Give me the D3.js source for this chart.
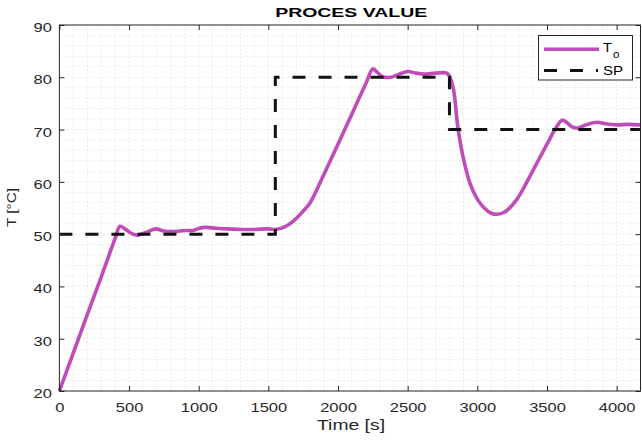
<!DOCTYPE html>
<html><head><meta charset="utf-8">
<script src="https://cdn.jsdelivr.net/npm/d3@7"></script>
<style>body{margin:0;background:#fff}svg{display:block;font-family:"Liberation Sans",Arial,sans-serif}</style>
</head><body><svg id="c" width="642" height="440"></svg>
<script>
const xTicks=[0,500,1000,1500,2000,2500,3000,3500,4000];
const yTicks=[20,30,40,50,60,70,80,90];
const spTime=[0,1550,1550,2800,2800,4175];
const spValue=[50,50,80,80,70,70];
const pvTime=[0,100,200,300,400,435,470,520,560,620,690,750,820,900,960,1000,1050,1100,1200,1300,1400,1500,1550,1600,1650,1700,1750,1800,1900,2000,2100,2200,2250,2280,2320,2380,2440,2500,2560,2620,2700,2780,2800,2830,2860,2900,2950,3000,3050,3100,3140,3200,3280,3340,3400,3460,3520,3570,3610,3640,3680,3720,3780,3860,3920,4000,4080,4175];
const pvValue=[20,27.3,34.6,41.8,49.2,51.5,51.0,50.1,49.8,50.3,51.0,50.6,50.5,50.7,50.7,51.1,51.3,51.2,51.0,50.9,50.9,51.0,50.9,51.2,51.9,53.0,54.4,56.0,61.5,67.2,73.0,78.8,81.6,81.0,80.1,80.0,80.6,81.1,80.8,80.6,80.8,80.8,80.2,77.5,70.5,64.5,59.5,56.7,55.0,54.0,53.8,54.3,56.5,59.2,62.2,65.2,68.2,70.6,71.8,71.4,70.5,70.3,70.9,71.4,71.1,70.9,71.0,70.9];

const SX=1.32;
const svg=d3.select("#c");
const L=59.4,R=641,T=25,B=391;
const x=d3.scaleLinear().domain([0,4175]).range([L,R]);
const y=d3.scaleLinear().domain([20,90]).range([B,T]);

// minor grid
const g=svg.append("g");
const xm=d3.range(0,4176,100), ym=d3.range(20,90.1,2);
g.selectAll("line.xm").data(xm).join("line").attr("x1",d=>x(d)).attr("x2",d=>x(d)).attr("y1",T).attr("y2",B)
 .attr("stroke","#cfcfcf").attr("stroke-width",0.8).attr("stroke-dasharray","1,3");
g.selectAll("line.ym").data(ym).join("line").attr("y1",d=>y(d)).attr("y2",d=>y(d)).attr("x1",L).attr("x2",R)
 .attr("stroke","#cfcfcf").attr("stroke-width",0.8).attr("stroke-dasharray","1,3");

// data
const sp=spTime.map((t,i)=>[t,spValue[i]]);
const pv=pvTime.map((t,i)=>[t,pvValue[i]]);
svg.append("path").datum(pv).attr("fill","none").attr("stroke","#bf4cb8").attr("stroke-width",3.6)
 .attr("d",d3.line().x(d=>x(d[0])).y(d=>y(d[1])).curve(d3.curveCatmullRom.alpha(0.5)));
svg.append("path").datum(sp).attr("fill","none").attr("stroke","#111").attr("stroke-width",3)
 .attr("stroke-dasharray","13,13").attr("d",d3.line().x(d=>x(d[0])).y(d=>y(d[1])));

// axes
const xa=d3.axisBottom(x).tickValues(xTicks).tickSize(-5).tickFormat(d3.format("d"));
const ya=d3.axisLeft(y).tickValues(yTicks).tickSize(-5);
const gx=svg.append("g").attr("transform",`translate(0,${B})`).call(xa);
const gy=svg.append("g").attr("transform",`translate(${L},0)`).call(ya);
const gx2=svg.append("g").attr("transform",`translate(0,${T})`).call(d3.axisTop(x).tickValues(xTicks).tickSize(-5).tickFormat(""));
const gy2=svg.append("g").attr("transform",`translate(${R-0.5},0)`).call(d3.axisRight(y).tickValues(yTicks).tickSize(-5).tickFormat(""));
[gx,gy,gx2,gy2].forEach(a=>{a.select(".domain").remove();a.selectAll(".tick line").attr("stroke","#262626");
 a.selectAll("text").attr("font-size",12.5).attr("fill","#262626").attr("font-family","Liberation Sans, Arial, sans-serif");});
gx.selectAll(".tick text").attr("y",null).attr("dy",null).attr("transform",`translate(0,21) scale(${SX},1)`);
gy.selectAll(".tick text").attr("x",null).attr("dy",null).attr("transform",`translate(-7.5,6.5) scale(${SX},1)`);
svg.append("rect").attr("x",L).attr("y",T).attr("width",R-L-0.5).attr("height",B-T).attr("fill","none").attr("stroke","#262626").attr("stroke-width",1);

// labels
svg.append("text").attr("x",(L+R)/2+1).attr("y",16.7).attr("text-anchor","middle").attr("font-weight","bold").attr("font-size",13)
 .attr("textLength",152).attr("lengthAdjust","spacingAndGlyphs").attr("fill","#000").text("PROCES VALUE");
svg.append("text").attr("x",351).attr("y",430).attr("text-anchor","middle").attr("font-size",15)
 .attr("textLength",68).attr("lengthAdjust","spacingAndGlyphs").attr("fill","#262626").text("Time [s]");
svg.append("text").attr("transform",`translate(16,207.5) rotate(-90)`).attr("text-anchor","middle").attr("font-size",13)
 .attr("textLength",39).attr("lengthAdjust","spacingAndGlyphs").attr("fill","#262626").text("T [°C]");

// legend
const lg=svg.append("g");
lg.append("rect").attr("x",538.5).attr("y",35.5).attr("width",94).attr("height",44.5).attr("fill","#fff").attr("stroke","#262626");
lg.append("line").attr("x1",544).attr("x2",599).attr("y1",49.3).attr("y2",49.3).attr("stroke","#bf4cb8").attr("stroke-width",3.6);
lg.append("line").attr("x1",544).attr("x2",598).attr("y1",70.5).attr("y2",70.5).attr("stroke","#111").attr("stroke-width",3).attr("stroke-dasharray","13,13");
const t1=lg.append("text").attr("transform",`translate(603,52) scale(1.15,1)`).attr("font-size",12.5).attr("fill","#000");
t1.append("tspan").text("T");
t1.append("tspan").attr("dx",1).attr("dy",6).attr("font-size",10).text("o");
lg.append("text").attr("transform",`translate(603,74.7) scale(1.25,1)`).attr("font-size",12).attr("fill","#000").text("SP");
</script></body></html>
